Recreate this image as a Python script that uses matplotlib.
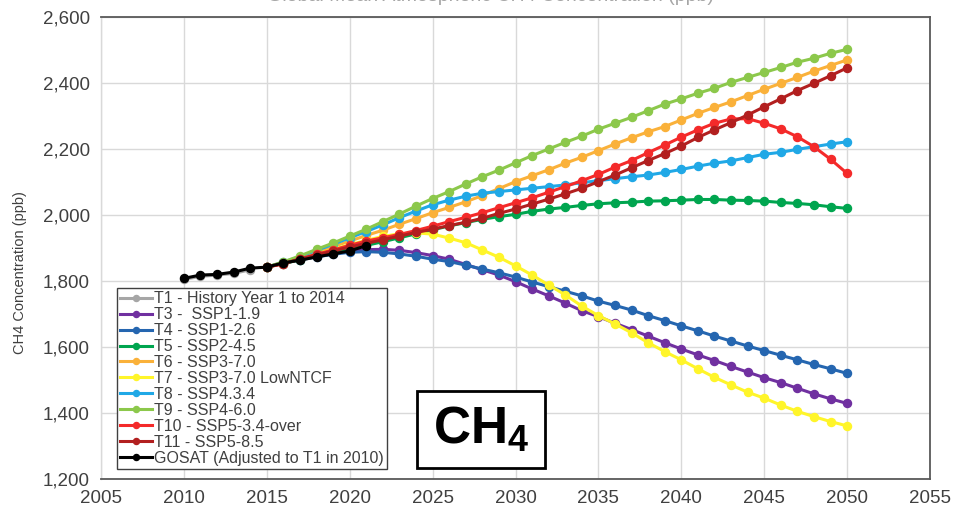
import matplotlib
matplotlib.use("Agg")
import matplotlib.pyplot as plt
from matplotlib.patches import Rectangle
from matplotlib.ticker import FuncFormatter, MultipleLocator

plt.rcParams['font.family'] = ['Liberation Sans', 'DejaVu Sans']

# ---- data (ppb) ----
hist_years = list(range(2010, 2015))
t1_history = [1805, 1814, 1818, 1823, 1834]

gosat_years = list(range(2010, 2022))
gosat = [1808, 1818, 1820, 1827, 1839, 1842, 1855, 1863, 1873, 1882, 1891, 1907]

scen_years = list(range(2015, 2051))
t3_ssp119 = [1842, 1855, 1866, 1876, 1885, 1892, 1895, 1896, 1893, 1886,
             1877, 1866, 1850, 1834, 1818, 1798, 1776, 1755, 1733, 1710,
             1692, 1672, 1653, 1633, 1613, 1594, 1576, 1559, 1541, 1524,
             1507, 1492, 1475, 1458, 1443, 1429]
t4_ssp126 = [1842, 1854, 1864, 1873, 1881, 1887, 1889, 1887, 1882, 1875,
             1866, 1859, 1848, 1836, 1825, 1812, 1797, 1783, 1769, 1755,
             1739, 1726, 1712, 1695, 1680, 1664, 1649, 1633, 1618, 1603,
             1589, 1575, 1561, 1547, 1534, 1520]
t5_ssp245 = [1842, 1853, 1864, 1875, 1886, 1897, 1908, 1919, 1931, 1943,
             1955, 1967, 1977, 1987, 1995, 2002, 2011, 2018, 2023, 2029,
             2034, 2037, 2039, 2042, 2043, 2045, 2047, 2047, 2045, 2044,
             2042, 2038, 2035, 2031, 2025, 2020]
t6_ssp370 = [1842, 1856, 1871, 1887, 1904, 1921, 1938, 1954, 1972, 1989,
             2007, 2023, 2040, 2059, 2080, 2101, 2119, 2137, 2157, 2175,
             2195, 2215, 2234, 2252, 2268, 2288, 2308, 2326, 2343, 2362,
             2381, 2399, 2417, 2436, 2453, 2470]
t7_ssp370_lowntcf = [1842, 1855, 1868, 1882, 1896, 1910, 1923, 1935, 1943, 1946,
                     1942, 1930, 1916, 1894, 1872, 1846, 1818, 1788, 1758, 1724,
                     1695, 1670, 1643, 1613, 1586, 1561, 1534, 1508, 1485, 1463,
                     1445, 1424, 1405, 1389, 1374, 1361]
t8_ssp434 = [1842, 1857, 1874, 1893, 1911, 1931, 1950, 1970, 1992, 2012,
             2031, 2045, 2057, 2066, 2071, 2076, 2081, 2086, 2091, 2098,
             2104, 2110, 2116, 2121, 2129, 2138, 2148, 2157, 2164, 2174,
             2184, 2190, 2199, 2207, 2215, 2222]
t9_ssp460 = [1842, 1858, 1876, 1896, 1915, 1936, 1957, 1980, 2003, 2027,
             2050, 2071, 2094, 2116, 2136, 2158, 2180, 2200, 2220, 2239,
             2260, 2278, 2296, 2316, 2336, 2352, 2369, 2384, 2402, 2417,
             2432, 2447, 2463, 2475, 2490, 2502]
t10_ssp534 = [1842, 1852, 1867, 1881, 1894, 1908, 1921, 1931, 1941, 1953,
              1966, 1980, 1993, 2007, 2022, 2037, 2052, 2069, 2086, 2104,
              2123, 2145, 2165, 2189, 2212, 2236, 2258, 2278, 2291, 2292,
              2278, 2261, 2237, 2207, 2169, 2126]
t11_ssp585 = [1842, 1853, 1866, 1879, 1891, 1903, 1914, 1925, 1936, 1947,
              1957, 1968, 1978, 1990, 2005, 2018, 2033, 2048, 2064, 2081,
              2101, 2121, 2143, 2165, 2186, 2209, 2235, 2258, 2280, 2303,
              2328, 2352, 2377, 2399, 2422, 2446]

labels = ["T1 - History Year 1 to 2014", "T3 -  SSP1-1.9", "T4 - SSP1-2.6",
          "T5 - SSP2-4.5", "T6 - SSP3-7.0", "T7 - SSP3-7.0 LowNTCF",
          "T8 - SSP4.3.4", "T9 - SSP4-6.0", "T10 - SSP5-3.4-over",
          "T11 - SSP5-8.5", "GOSAT (Adjusted to T1 in 2010)"]
colors = ["#A6A6A6", "#7030A0", "#2566B0", "#00A54F", "#FAB13A", "#FFF52A",
          "#20A8E6", "#8CC84B", "#F42A2A", "#B21F1F", "#000000"]

series = [(hist_years, t1_history), (scen_years, t3_ssp119), (scen_years, t4_ssp126),
          (scen_years, t5_ssp245), (scen_years, t6_ssp370), (scen_years, t7_ssp370_lowntcf),
          (scen_years, t8_ssp434), (scen_years, t9_ssp460), (scen_years, t10_ssp534),
          (scen_years, t11_ssp585), (gosat_years, gosat)]

fig = plt.figure(figsize=(9.73, 5.12), dpi=100)
ax = fig.add_axes([101 / 973, 33 / 512, 829 / 973, 462 / 512])

for (xs, ys), lab, c in zip(series, labels, colors):
    ax.plot(xs, ys, '-o', color=c, lw=2.2, ms=5.8, label=lab, zorder=3)

ax.set_xlim(2005, 2055)
ax.set_ylim(1200, 2600)
ax.xaxis.set_major_locator(MultipleLocator(5))
ax.yaxis.set_major_locator(MultipleLocator(200))
ax.yaxis.set_major_formatter(FuncFormatter(lambda v, p: '{:,.0f}'.format(v)))
ax.grid(True, color='#D9D9D9', lw=1.0, zorder=0)
ax.tick_params(length=0, labelsize=13.5, labelcolor='#404040', pad=8)
for s in ax.spines.values():
    s.set_color('#595959')
    s.set_linewidth(1.3)
ax.spines['left'].set_color('#D9D9D9')
ax.spines['left'].set_linewidth(1.0)

ax.set_ylabel('CH4 Concentration (ppb)', fontsize=10.5, color='#404040')
ax.yaxis.set_label_coords(-0.089, 0.446)

leg = ax.legend(loc='lower left', bbox_to_anchor=(117 / 973, 43 / 512),
                bbox_transform=fig.transFigure, fontsize=11.5, frameon=True,
                fancybox=False, edgecolor='#404040', framealpha=1,
                handlelength=2.0, handletextpad=0.1, labelspacing=0.06,
                borderpad=0.2, borderaxespad=0, markerscale=0.75)
leg.get_frame().set_linewidth(1.0)
for t in leg.get_texts():
    t.set_color('#404040')

# species label box
fig.patches.append(Rectangle((417 / 973, (512 - 468) / 512), 128 / 973, 77 / 512,
                             transform=fig.transFigure, fill=True, facecolor='white',
                             edgecolor='black', lw=2, zorder=5))
fig.text(481 / 973, (512 - 430) / 512, r'CH$_\mathregular{4}$', fontsize=37,
         fontweight='bold', ha='center', va='center', zorder=6)

# top title, mostly above the canvas
fig.text(490 / 973, 1.0 - 1 / 512, 'Global Mean Atmospheric CH4 Concentration (ppb)',
         fontsize=14, color='#A6A6A6', ha='center', va='baseline')

fig.savefig('out.png', dpi=100)
